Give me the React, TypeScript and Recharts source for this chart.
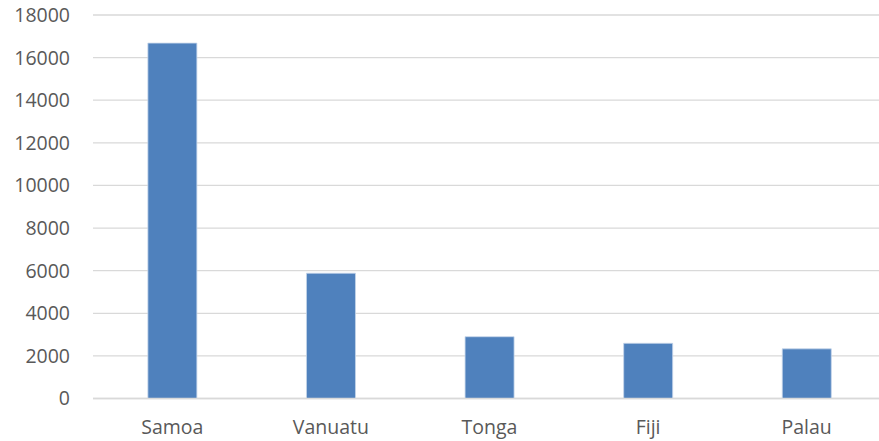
import { BarChart, Bar, XAxis, YAxis, CartesianGrid } from 'recharts';

const countries = ['Samoa', 'Vanuatu', 'Tonga', 'Fiji', 'Palau'];
const values = [16680, 5880, 2900, 2590, 2330];
const yTicks = [0, 2000, 4000, 6000, 8000, 10000, 12000, 14000, 16000, 18000];

const data = countries.map((name, i) => ({ name, value: values[i] }));

const tickStyle = { fontSize: 19.5, fill: '#595959', fontFamily: 'Open Sans, sans-serif' };

export default function App() {
  return (
    <div
      style={{
        position: 'fixed',
        left: 0,
        top: 0,
        width: 879,
        height: 441,
        overflow: 'hidden',
        background: '#fff',
      }}
    >
      <BarChart
        width={886}
        height={441}
        data={data}
        style={{ display: 'block' }}
        margin={{ top: 15, right: 0, left: 0, bottom: 0 }}
        barCategoryGap="34.6%"
      >
        <CartesianGrid vertical={false} stroke="#d9d9d9" strokeWidth={1.3} />
        <XAxis
          dataKey="name"
          axisLine={{ stroke: '#d9d9d9', strokeWidth: 1.3 }}
          tickLine={false}
          tickSize={0}
          tickMargin={22}
          height={42.5}
          tick={tickStyle}
        />
        <YAxis
          domain={[0, 18000]}
          ticks={yTicks}
          interval={0}
          axisLine={false}
          tickLine={false}
          tickSize={0}
          tickMargin={23}
          width={93}
          tick={tickStyle}
        />
        <Bar
          dataKey="value"
          fill="#4f81bd"
          stroke="#c5d5ea"
          strokeWidth={0.8}
          isAnimationActive={false}
        />
      </BarChart>
    </div>
  );
}
